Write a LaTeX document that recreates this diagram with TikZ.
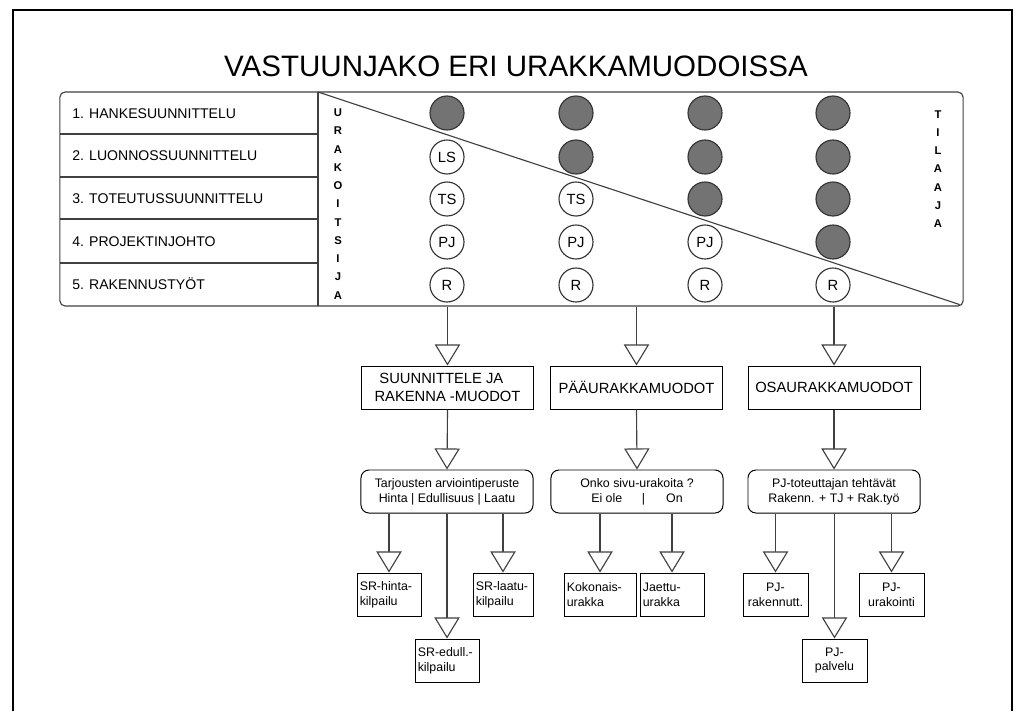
\documentclass[tikz,border=0pt]{standalone}
\usepackage{fontspec}
\setmainfont{Liberation Sans}
\usetikzlibrary{arrows.meta}
\begin{document}
\begin{tikzpicture}[x=0.025cm,y=-0.025cm,
  ln/.style={draw=black!75,line width=0.8pt},
  arr/.style={ln,-{Triangle[open,length=15pt,width=18pt,fill=white]}},
  tablebox/.style={ln,rounded corners=0.13cm,minimum width=22.575cm,minimum height=5.35cm,inner sep=0pt},
  lbl/.style={anchor=west,inner sep=0pt,text height=7.2pt,text depth=0pt,font=\fontsize{10}{12}\selectfont},
  dot/.style={circle,draw=black!80,fill=black!55,line width=0.8pt,minimum size=0.85cm,inner sep=0pt},
  ring/.style={circle,draw=black!80,fill=white,line width=0.8pt,minimum size=0.85cm,inner sep=0pt,font=\fontsize{10.5}{12}\selectfont},
  vert/.style={align=center,inner sep=0pt,font=\bfseries\fontsize{8}{13}\selectfont},
  bigbox/.style={draw,line width=0.7pt,minimum width=4.3cm,minimum height=1.075cm,font=\fontsize{10.5}{12.8}\selectfont},
  qbox/.style={draw,line width=0.7pt,rounded corners=0.2cm,minimum width=4.3cm,minimum height=1.075cm,align=center,font=\fontsize{8.8}{10.7}\selectfont},
  leaf/.style={draw,line width=0.7pt,minimum height=1.075cm,inner xsep=2pt,font=\fontsize{8.8}{10.6}\selectfont}
]
\useasboundingbox (0,0) rectangle (1016,711);
\draw[line width=1.8pt] (13,711) -- (13,10) -- (1012,10) -- (1012,711);
\node[font=\fontsize{21}{25}\selectfont,anchor=base] (title) at (516,76) {VASTUUNJAKO ERI URAKKAMUODOISSA};
\node[tablebox] (table) at (511.5,199) {};
\draw[ln] (318,92) -- (318,306);
\foreach \y in {134,177,219,263} \draw[ln] (60,\y) -- (318,\y);
\node[lbl] (l1) at (72,113) {1. HANKESUUNNITTELU};
\node[lbl] (l2) at (72,155.5) {2. LUONNOSSUUNNITTELU};
\node[lbl] (l3) at (72,198) {3. TOTEUTUSSUUNNITTELU};
\node[lbl] (l4) at (72,241) {4. PROJEKTINJOHTO};
\node[lbl] (l5) at (72,284.5) {5. RAKENNUSTYÖT};
\node[vert] (urak) at (338,204) {U\\R\\A\\K\\O\\I\\T\\S\\I\\J\\A};
\node[vert] (tilaaja) at (938,169) {T\\I\\L\\A\\A\\J\\A};
\foreach \col/\x in {1/447,2/576,3/705,4/833}
  \foreach \row/\y/\tag in {1/113/,2/157/LS,3/199/TS,4/242/PJ,5/285/R}
  {\ifnum\row>\col \node[ring] (c\col\row) at (\x,\y) {\tag}; \else \node[dot] (c\col\row) at (\x,\y) {}; \fi}
\draw[ln] (318,92) -- ([shift={(-4,-2)}]table.south east);
\node[bigbox,align=left] (sr) at (447.5,387.5) {\hspace*{3.5pt}SUUNNITTELE JA\\RAKENNA -MUODOT};
\node[bigbox] (paa) at (636.5,387.5) {PÄÄURAKKAMUODOT};
\node[bigbox] (osa) at (834,387.5) {OSAURAKKAMUODOT};
\draw[arr] (sr.north |- table.south) -- (sr.north);
\draw[arr] (paa.north |- table.south) -- (paa.north);
\draw[arr] (osa.north |- table.south) -- (osa.north);
\node[qbox] (tarj) at (447,491.5) {Tarjousten arviointiperuste\\Hinta | Edullisuus | Laatu};
\node[qbox] (onko) at (637,491.5) {Onko sivu-urakoita ?\\Ei ole\hspace{14pt}|\hspace{15pt}On};
\node[qbox] (pjt) at (834,491.5) {PJ-toteuttajan tehtävät\\Rakenn. + TJ + Rak.työ};
\draw[arr] (sr.south) -- (tarj.north);
\draw[arr] (paa.south) -- (onko.north);
\draw[arr] (osa.south) -- (pjt.north);
\node[leaf,text width=1.6cm-4pt,align=left] (hinta) at (389,594.5) {SR-hinta-\\kilpailu};
\node[leaf,text width=1.5cm-4pt,align=left] (laatu) at (503,594.5) {SR-laatu-\\kilpailu};
\node[leaf,text width=1.6cm-4pt,align=left] (edull) at (447,660.5) {SR-edull.-\\kilpailu};
\node[leaf,text width=1.8cm-4pt,align=left] (koko) at (600,594.5) {Kokonais-\\urakka};
\node[leaf,text width=1.6cm-4pt,align=left] (jaettu) at (672,594.5) {Jaettu-\\urakka};
\node[leaf,text width=1.625cm-4pt,align=center] (pjr) at (775.5,594.5) {PJ-\\rakennutt.};
\node[leaf,text width=1.625cm-4pt,align=center] (pju) at (891.5,594.5) {PJ-\\urakointi};
\node[leaf,text width=1.625cm-4pt,align=center] (pjp) at (834.5,660.5) {PJ-\\palvelu};
\draw[arr] (hinta.north |- tarj.south) -- (hinta.north);
\draw[arr] (laatu.north |- tarj.south) -- (laatu.north);
\draw[arr] (edull.north |- tarj.south) -- (edull.north);
\draw[arr] (koko.north |- onko.south) -- (koko.north);
\draw[arr] (jaettu.north |- onko.south) -- (jaettu.north);
\draw[arr] (pjr.north |- pjt.south) -- (pjr.north);
\draw[arr] (pju.north |- pjt.south) -- (pju.north);
\draw[arr] (pjp.north |- pjt.south) -- (pjp.north);
\end{tikzpicture}
\end{document}
